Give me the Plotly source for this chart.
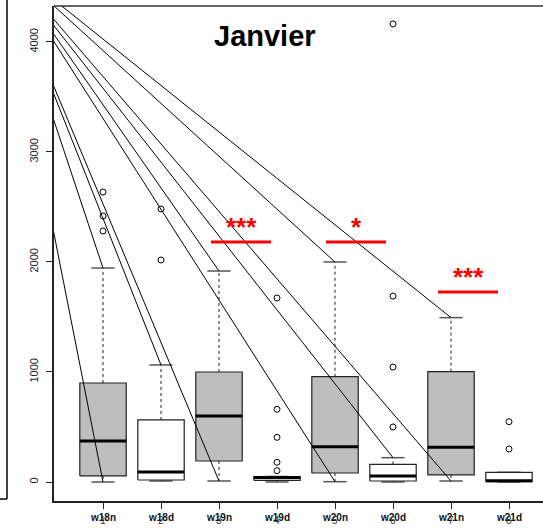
import plotly.graph_objects as go

# ---------------- data ----------------
categories = ["w18n", "w18d", "w19n", "w19d", "w20n", "w20d", "w21n", "w21d"]
cat_numbers = ["1", "2", "3", "4", "5", "6", "7", "8"]
positions = [1, 2, 3, 4, 5, 6, 7, 8]
q1 = [55, 18, 191, 15, 82, 9, 64, 3]
median = [373, 91, 600, 40, 321, 55, 315, 12]
q3 = [900, 564, 1000, 48, 957, 161, 1003, 88]
lower_whisker = [0, 9, 9, 0, 3, 0, 9, 0]
upper_whisker = [1945, 1064, 1918, 50, 2000, 221, 1494, 88]
outliers = [
    [2282, 2418, 2636],
    [2018, 2482],
    [],
    [103, 179, 406, 661, 1673],
    [],
    [500, 1045, 1690, 4164],
    [],
    [300, 548],
]
box_fill = ["#BEBEBE", "#FFFFFF"] * 4

# stray lines: common origin (data coords) -> end points (category index, value)
line_origin = (-0.79, 4782)
line_end_pos = [1, 1, 2, 3, 3, 5, 5, 6, 7, 7]
line_end_val = [0, 1945, 1064, 9, 1918, 3, 2000, 221, 9, 1494]

# significance bars
sig_x0 = [2.862, 4.845, 6.776]
sig_x1 = [3.897, 5.879, 7.81]
sig_y = [2182, 2182, 1727]
sig_label = ["***", "*", "***"]

y_ticks = [0, 1000, 2000, 3000, 4000]
title_text = "Janvier"

# ---------------- figure ----------------
fig = go.Figure()
BW = 0.4      # half box width
SW = 0.2      # half staple width

for i, p in enumerate(positions):
    # whiskers (dashed)
    fig.add_trace(go.Scatter(
        x=[p, p, None, p, p],
        y=[q3[i], upper_whisker[i], None, q1[i], lower_whisker[i]],
        mode="lines", line=dict(color="#222222", width=1, dash="3px,3px"),
        hoverinfo="skip", showlegend=False))
    # staples
    fig.add_trace(go.Scatter(
        x=[p - SW, p + SW, None, p - SW, p + SW],
        y=[upper_whisker[i], upper_whisker[i], None, lower_whisker[i], lower_whisker[i]],
        mode="lines", line=dict(color="#555555", width=1.5),
        hoverinfo="skip", showlegend=False))
    # box
    fig.add_trace(go.Scatter(
        x=[p - BW, p + BW, p + BW, p - BW, p - BW],
        y=[q1[i], q1[i], q3[i], q3[i], q1[i]],
        mode="lines", fill="toself", fillcolor=box_fill[i],
        line=dict(color="#222222", width=1.2),
        hoverinfo="skip", showlegend=False))
    # median
    fig.add_trace(go.Scatter(
        x=[p - BW, p + BW], y=[median[i], median[i]],
        mode="lines", line=dict(color="black", width=3),
        hoverinfo="skip", showlegend=False))
    # outliers
    if outliers[i]:
        fig.add_trace(go.Scatter(
            x=[p] * len(outliers[i]), y=outliers[i], mode="markers",
            marker=dict(symbol="circle-open", size=6, color="black",
                        line=dict(width=1, color="black")),
            hoverinfo="skip", showlegend=False))

# stray diagonal lines
lx, ly = [], []
for p, v in zip(line_end_pos, line_end_val):
    lx += [line_origin[0], p, None]
    ly += [line_origin[1], v, None]
fig.add_trace(go.Scatter(x=lx, y=ly, mode="lines",
                         line=dict(color="black", width=1),
                         hoverinfo="skip", showlegend=False))

# significance bars
for a, b, y, lab in zip(sig_x0, sig_x1, sig_y, sig_label):
    fig.add_trace(go.Scatter(x=[a, b], y=[y, y], mode="lines",
                             line=dict(color="#FF0000", width=3),
                             hoverinfo="skip", showlegend=False))
    fig.add_annotation(x=(a + b) / 2, y=y + 140, xref="x", yref="y",
                       text=lab, showarrow=False, yanchor="middle",
                       font=dict(family="Liberation Sans", size=26,
                                 color="#FF0000", weight="bold"))

# x labels: names + overlapping numbers
for p, name, num in zip(positions, categories, cat_numbers):
    fig.add_annotation(x=p, y=-0.034, xref="x", yref="paper", text=name,
                       showarrow=False, yanchor="middle",
                       font=dict(family="Liberation Sans", size=10,
                                 color="#111111", weight="bold"))
    fig.add_annotation(x=p, y=-0.039, xref="x", yref="paper", text=num,
                       showarrow=False, yanchor="middle",
                       font=dict(family="Liberation Sans", size=10,
                                 color="#333333"))

# title inside panel
fig.add_annotation(x=0.4315, y=0.939, xref="paper", yref="paper",
                   text=title_text, showarrow=False, yanchor="middle",
                   font=dict(family="Liberation Sans", size=29,
                             color="black", weight="bold"))

# top border and neighbouring panel border
fig.add_shape(type="line", xref="paper", yref="paper", x0=0, x1=1, y0=1, y1=1,
              line=dict(color="#333333", width=1.5))
fig.add_shape(type="line", xref="paper", yref="paper", x0=-0.0961, x1=-0.0961,
              y0=0.004, y1=1.02, line=dict(color="black", width=1.5))
fig.add_shape(type="line", xref="paper", yref="paper", x0=-0.12, x1=-0.0961,
              y0=0.004, y1=0.004, line=dict(color="black", width=1.5))

fig.update_layout(
    width=543, height=528, autosize=False,
    margin=dict(l=54, r=0, t=6, b=27, autoexpand=False),
    paper_bgcolor="white", plot_bgcolor="white",
    showlegend=False,
    xaxis=dict(range=[0.155, 8.586], showgrid=False, zeroline=False,
               automargin=False,
               showline=True, linecolor="#222222", linewidth=1.5,
               ticks="outside", ticklen=6, tickcolor="#222222",
               tickvals=positions, showticklabels=False, fixedrange=True),
    yaxis=dict(range=[-172.7, 4327], showgrid=False, zeroline=False,
               automargin=False,
               showline=True, linecolor="#222222", linewidth=1.5,
               ticks="outside", ticklen=6, tickcolor="#222222",
               tickvals=y_ticks, ticktext=[str(t) for t in y_ticks],
               tickangle=-90, ticklabelstandoff=4,
               tickfont=dict(family="Liberation Sans", size=11, color="#222222"),
               fixedrange=True),
)

fig.write_html("out.html", config={"displayModeBar": False},
               post_script="document.body.style.margin='0';document.body.style.overflow='hidden';")
